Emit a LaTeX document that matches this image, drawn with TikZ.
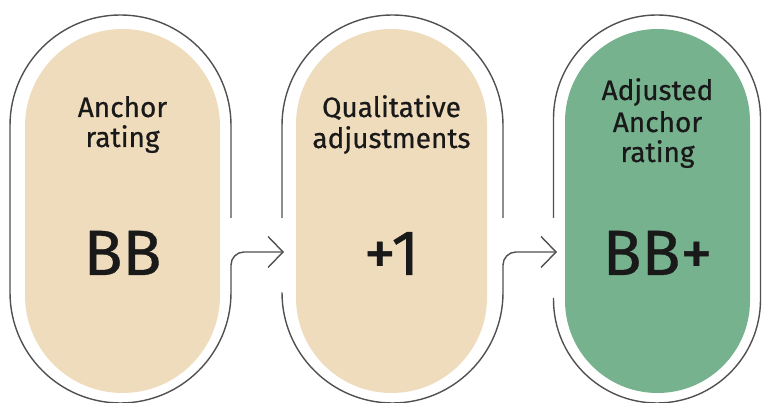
\documentclass[tikz,border=0pt]{standalone}
\usepackage{fontspec}
\setmainfont{Fira Sans}
\newfontfamily\pillfont{Fira Sans}[FakeBold=0.6,AutoFakeBold=0.6]
\usetikzlibrary{arrows.meta}
\definecolor{beige}{HTML}{EFDCBC}
\definecolor{sage}{HTML}{77B28F}
\definecolor{linegray}{HTML}{505050}
\begin{document}
\begin{tikzpicture}[x=1pt,y=1pt,
  outline/.style={draw=linegray, line width=1.4pt},
  flow/.style={outline, rounded corners=13pt, -{Straight Barb[length=15pt,width=31pt,line width=1.4pt]}},
  pill/.style={draw=none, inner sep=0pt, minimum height=364pt},
  label/.style={anchor=base, inner sep=0pt, font=\pillfont\fontsize{28}{30}\selectfont, text=black!90},
  big/.style={anchor=base, inner sep=0pt, font=\pillfont\fontsize{64}{70}\selectfont, text=black!90}]
\useasboundingbox (0,0) rectangle (762,403);
% inner filled pills
\node[pill, fill=beige, minimum width=195pt, rounded corners=97.4pt] (p1) at (122.5,192) {};
\node[pill, fill=beige, minimum width=191pt, rounded corners=95.4pt] (p2) at (391.5,192) {};
\node[pill, fill=sage, minimum width=185pt, rounded corners=92.4pt] (p3) at (657.5,192) {};
% connector end points
\coordinate (o1) at (231,138);
\coordinate (i2) at (284,151);
\coordinate (o2) at (503,138);
\coordinate (i3) at (557,151);
% outer outline of pill 1
\draw[outline] (231,185) -- (231,277.5) arc[start angle=0,end angle=180,radius=110.5]
  -- (10,110.5) arc[start angle=180,end angle=360,radius=110.5] -- (o1);
% outer outline of pill 2
\draw[outline] (282,185) -- (282,277.5) arc[start angle=180,end angle=0,radius=110.5] -- (503,185);
\draw[outline] (282,105) -- (282,110.5) arc[start angle=180,end angle=360,radius=110.5] -- (o2);
% outer outline of pill 3
\draw[outline] (553.5,185) -- (553.5,284.5) arc[start angle=180,end angle=0,radius=103.5]
  -- (760.5,103.5) arc[start angle=0,end angle=-180,radius=103.5] -- (553.5,105);
% connectors
\draw[flow] (o1) |- (i2);
\draw[flow] (o2) |- (i3);
% texts
\node[label] (t1a) at (122.5,286) {\bfseries Anchor};
\node[label] (t1b) at (122.5,256) {\bfseries rating};
\node[big] (v1) at (122.5,128) {\bfseries BB};
\node[label] (t2a) at (391.5,286) {\bfseries Qualitative};
\node[label] (t2b) at (391.5,255) {\bfseries adjustments};
\node[big] (v2) at (391.5,128) {\bfseries +1};
\node[label] (t3a) at (657.5,303) {\bfseries Adjusted};
\node[label] (t3b) at (657.5,271) {\bfseries Anchor};
\node[label] (t3c) at (657.5,241) {\bfseries rating};
\node[big] (v3) at (657.5,128) {\bfseries BB+};
\end{tikzpicture}
\end{document}
